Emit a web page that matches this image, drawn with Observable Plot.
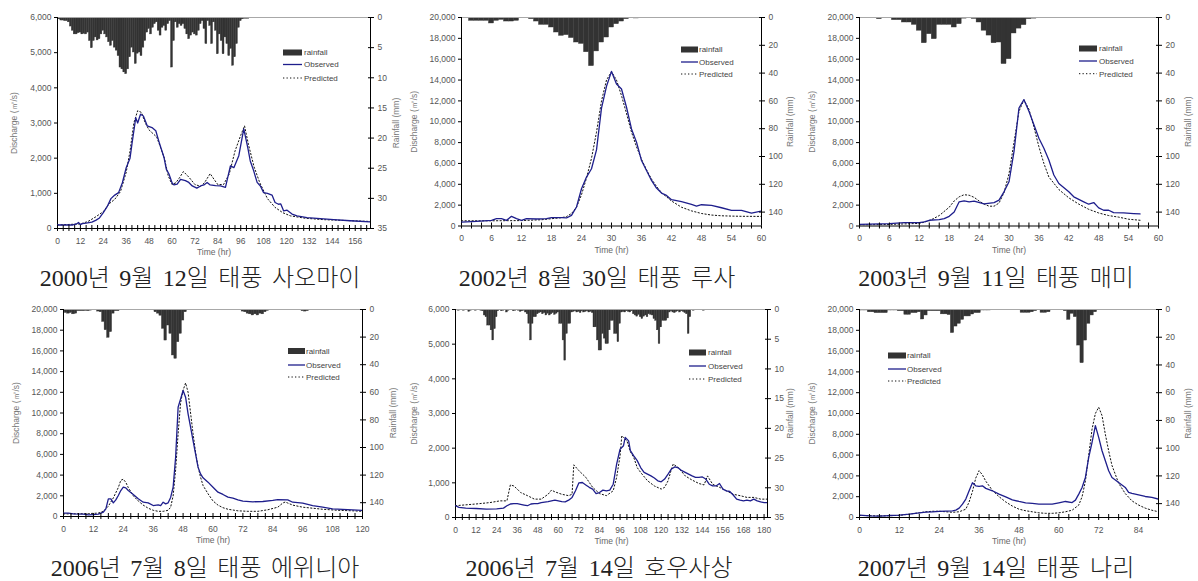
<!DOCTYPE html>
<html><head><meta charset="utf-8">
<script src="https://cdn.jsdelivr.net/npm/d3@7"></script>
<script src="https://cdn.jsdelivr.net/npm/@observablehq/plot@0.6"></script>
<style>
body{margin:0;background:#fff;}
#page{position:relative;width:1198px;height:581px;overflow:hidden;background:#fff;}
#page svg{position:absolute;}
</style></head><body><div id="page"></div>
<script>
// ---------- DATA ----------
const captions = ["2000년 9월 12일 태풍 사오마이","2002년 8월 30일 태풍 루사","2003년 9월 11일 태풍 매미",
                  "2006년 7월 8일 태풍 에위니아","2006년 7월 14일 호우사상","2007년 9월 14일 태풍 나리"];
const legendLabels = ["rainfall","Observed","Predicted"];
const xTitle = "Time (hr)", yTitle = "Discharge (㎥/s)", rTitle = "Rainfall (mm)";

// hourly rainfall (mm), index = hour
const p1Rain = [0.2,0.3,0.5,0.5,0.6,0.6,0.8,1.5,2.2,2.8,2.8,2.6,2.5,2.8,2.7,2.8,2.5,3.9,5.1,3.9,3.3,3.8,3.6,2.8,2.2,2.8,3.3,4.1,4.7,3.9,5,5.5,6.4,8.3,8.6,9.1,9.4,8.6,6.6,5,5.8,7.7,6,5.8,6.4,5,3.9,2.5,1.9,2.8,1.7,1.1,0.8,2.2,3,1.7,1.4,2.2,1.1,0.6,8.3,3.9,0.8,1.7,1.1,1.4,1.1,1.9,2.8,3.6,3,2.5,2.8,3,2.2,1.1,0.6,1.9,4.4,0.6,1.4,4.4,0.8,2.2,6.1,2.8,3.9,6.1,3.3,4.4,6.4,5.2,8,6.6,4.4,1.7,0.6,0.3,0.2,0.2,0.2,0.1,0.1,0.1,0.1,0.1,0,0,0.1,0,0,0.1,0,0,0.1,0,0.1,0,0,0.1,0,0,0.1,0,0.1,0,0,0.1,0,0,0.1,0,0.1,0,0,0.1,0,0,0.1,0,0.1,0,0,0.1,0,0,0.1,0,0.1,0,0,0.1,0,0,0.1,0,0.1];
const p2Rain = [0.5,0.5,2.4,2.4,2.4,2.4,4.3,2.4,1.7,2.9,2.9,2.4,0.5,0.5,1.2,2.9,5.3,5.3,7.2,10.8,13.2,12.7,14.8,18,19,25,35,24.4,18,14.4,7.2,4.8,2.9,1.2,0.3,0.7,0.5,0,0,0,0,0,0.5,0,0,0,0.5,0.5,0,0,0,0,0,0,0,0,0,0,0,0];
const p3Rain = [0.3,0.5,0.5,0.5,1.2,0.5,0.5,1.9,1.9,3.6,3.6,5.3,9.5,18.5,12,15.6,5.3,5.3,5.3,7.2,4.8,0.8,0.5,1,3.6,9.5,13,18.5,18,33.5,30,11.5,8,5.5,1.2,0.8,0.4,0.4,0.4,0.4,0.4];
const p4Rain = [1.5,2.5,3,2.5,3.5,3,1.2,1.2,1.2,1,1.2,0.8,0.3,0.3,1.5,2,9,15,20.5,16.4,3,1.2,1.2,0.5,0.2,0.2,0,0.2,0,0,0.2,0,0,0.2,0,0.3,0.5,2,3,4.5,14,22.5,11.6,17.6,33.3,35.7,23.7,17.6,8,2,0.5,0.2,0,0.2,0,0,0.2,0,0,0.2,0,0,0.2,0,0,0.2,0,0,0.2,0,0.2,0.5,1.5,2,3,3.5,4.3,3.5,4.3,3,3.5,2,1,0.3,0.2,0,0.3,0.2,0,0.3,0,0.2,0,0.3,0,0.5,1.2,1.5,1.2,0.3,0.2,0,0.2,0,0,0.2,0,0,0.2,0,0,0.2,0,0,0.2,0,0,0.2,0,0,0.2];
const p5Rain = [0.1,0.1,0.2,0.1,0.1,0.2,0.1,0.1,0.4,0.2,0.1,0.1,0.2,0.1,0.1,0.2,0.3,
  1,1.3,2.7,2.7,3.5,5.2,3.3,1.3,0.3,
  0.1,0.3,0.2,0.1,0.5,0.2,0.1,0.1,0.3,0.2,0.1,0.2,0.4,0.3,0.2,0.5,0.8,
  2.4,5.2,2.4,1.3,1.3,
  0.8,0.6,0.5,0.8,0.6,1,0.7,1,0.8,0.6,0.9,0.7,0.5,
  2.4,2.4,5.2,8.6,4.1,2.4,2.4,0.5,
  0.4,0.3,0.5,0.4,0.6,0.3,0.5,0.4,0.3,0.5,0.4,0.6,
  3,3,5.2,6.9,6.9,4.1,4.9,5.8,5.8,3.5,1.9,1.9,4.1,4.1,5.5,2.4,
  0.5,0.4,0.5,0.3,0.4,0.5,0.3,
  0.8,1,1.2,0.9,1.3,1.6,1.2,1,1.3,0.8,0.9,1,1.6,1.9,
  3.5,5.8,3,1.9,1.9,1.9,1.5,
  0.5,0.3,0.5,0.6,0.4,0.3,0.5,0.3,0.4,0.6,0.8,
  4.1,1.3,
  0.1,0.2,0.1,0,0.1,0.1,0,0.2,0.1,0,0.1,0,0.1,0.1,0,0.1,0,0.1,0,0.1,0.1,0,0.1,0,0.1,0,0,0.1,0,0.1,0,0,0.1,0,0.1,0,0,0.1,0,0,0.1,0,0.1,0];
const p6Rain = [0.7,0.7,0.7,2,2,2.6,2.6,2.6,2.6,0.7,0.7,0.7,1.2,1.2,3.8,3.8,2.6,2.6,2,7.2,4.3,1.2,1.2,1.2,1.2,3.5,3.5,4,17,12.3,10.3,7.5,5,5,3.6,2.6,2.6,0.7,0.7,0.7,0.5,0.2,0.2,0.2,0.2,0.2,0.2,0.2,0.2,2.4,2.4,2.4,2,1.2,0.5,2.4,2.4,2,0.2,0.2,0.2,0.2,1.2,7.5,3.1,5.5,26,38.7,22.4,10.3,4.3,2];

// discharge series [hour, m3/s]
const p1Observed = [[0,100],[8,100],[10,130],[11,170],[12,110],[13,140],[15,150],[18,180],[20,230],[22,300],[24,450],[26,620],[28,850],[30,950],[32,1020],[34,1300],[36,1730],[38,2000],[39,2400],[41,3150],[42,3000],[43.5,3250],[45,3200],[47,2920],[49.5,2870],[51.5,2780],[53,2500],[55.8,2020],[57,1690],[58.4,1550],[60,1300],[61,1240],[62.7,1260],[64.5,1400],[67,1360],[68.8,1310],[70.6,1210],[73,1150],[75,1210],[76.7,1240],[78.4,1310],[80,1240],[82.8,1220],[85.4,1210],[88,1170],[90.6,1780],[92.4,1730],[95,2070],[97.6,2830],[99.7,2300],[101,1920],[102.8,1640],[104.6,1310],[106.3,1210],[108,1020],[110,1000],[112.4,950],[114,740],[115.8,690],[117,700],[118.5,500],[120.3,520],[122.9,410],[125.5,360],[130.7,310],[137.7,280],[144.7,250],[153.4,220],[164,190]];
const p1Predicted = [[0,100],[12,130],[16,200],[20,330],[24,480],[27,700],[30,830],[33,1050],[36,1600],[38,2200],[40,3000],[42,3350],[44,3300],[46,3000],[48,2800],[52,2600],[56,2000],[58,1500],[60,1250],[62,1300],[64,1450],[66,1620],[69,1450],[72,1250],[75,1200],[77,1300],[80,1560],[82,1400],[84,1250],[87,1250],[90,1550],[93,2200],[96,2650],[98,2920],[100,2400],[103,1750],[106,1300],[110,850],[114,600],[118,450],[122,360],[130,290],[140,250],[150,230],[164,200]];
const p2Observed = [[0,380],[3,450],[6,540],[7,700],[8,700],[9,540],[10,925],[11,700],[12,540],[13,700],[15,670],[17,700],[18,800],[20,800],[21,770],[22,1020],[23,1820],[24,3570],[25,4690],[26,5490],[27,7300],[28,11300],[29,13400],[30,14830],[31,13620],[32,13140],[33,11390],[34,9310],[35,8040],[36,6280],[37,5330],[38,4370],[39,3640],[40,3160],[41,2930],[42,2520],[44,2330],[46,2070],[47,1910],[48,2040],[50,1980],[52,1750],[54,1500],[56,1500],[58,1240],[60,1430]];
const p2Predicted = [[0,500],[6,500],[12,520],[16,600],[18,700],[20,800],[21,900],[22,1200],[23,1800],[24,3000],[25,4600],[26,6500],[27,9000],[28,12000],[29,14000],[30,14800],[31,14000],[32,12500],[33,10800],[34,9000],[35,7600],[36,6400],[37,5400],[38,4500],[39,3800],[40,3200],[42,2400],[44,1800],[46,1450],[48,1200],[50,1050],[52,980],[54,950],[56,930],[60,920]];
const p3Observed = [[0,160],[6,225],[9,320],[12,320],[13,390],[14,550],[16,610],[17,710],[18,930],[19,1350],[20,2320],[21,2410],[22,2320],[23,2380],[25,2120],[27,2250],[28,2480],[29,3280],[30,4240],[31,7140],[32,11320],[33,12120],[34,11000],[35,9710],[36,8420],[37,7460],[38,6330],[39,4890],[40,4080],[42,3280],[43,2800],[45,2320],[46,2090],[47,2250],[48,1740],[49,1510],[50,1510],[51,1290],[53,1250],[55,1190],[56.3,1160]];
const p3Predicted = [[0,100],[6,150],[12,250],[14,500],[16,1000],[18,1800],[19,2400],[20,2800],[21,3000],[22,2950],[23,2750],[24,2400],[25,2100],[26,1900],[27,1900],[28,2200],[29,3200],[30,5000],[31,8000],[32,11000],[33,12100],[34,11200],[35,9500],[36,7600],[37,6000],[38,4700],[40,3500],[42,2700],[44,2100],[46,1600],[48,1250],[50,1000],[52,850],[54,650],[56.3,550]];
const p4Observed = [[0,320],[2,320],[4,260],[8,225],[10,160],[12,190],[14,225],[16,420],[17,740],[18,1710],[19,1710],[20,1320],[21,1600],[22,2030],[23,2510],[24,2830],[25,2770],[26,2510],[28,2130],[30,1710],[32,1380],[34,1320],[36,1060],[38,1130],[39,1060],[40,1380],[41,1220],[42,1320],[43,1840],[44,2830],[45,5730],[46,10560],[47,11370],[48,12170],[49,11530],[50,9920],[51,8630],[52,7340],[53,6050],[54,4770],[55,4120],[56,3740],[58,3320],[60,2830],[62,2350],[64,2130],[66,1870],[68,1770],[70,1610],[72,1480],[76,1420],[80,1450],[84,1550],[86,1640],[90,1610],[92,1380],[96,1290],[100,1060],[104,900],[108,740],[112,680],[116,640],[120,580]];
const p4Predicted = [[0,250],[10,280],[14,330],[16,500],[18,1000],[20,1800],[22,2800],[23,3500],[24,3600],[25,3300],[26,2800],[28,2000],[30,1500],[32,1100],[34,800],[36,600],[38,500],[40,500],[42,600],[43,900],[44,2000],[45,4500],[46,8000],[47,11000],[48,12200],[49,12900],[50,12000],[51,10000],[52,8000],[53,6200],[54,4800],[55,3800],[56,3000],[58,2200],[60,1500],[62,1100],[64,850],[66,700],[70,550],[74,500],[78,500],[82,650],[86,900],[88,1300],[89,1400],[90,1300],[92,1100],[96,900],[100,800],[104,700],[110,600],[116,550],[120,500]];
const p5Observed = [[0,340],[2,290],[6,270],[12,260],[18,240],[24,250],[28,270],[30,340],[32,390],[34,400],[36,400],[40,360],[42,340],[44,390],[46,400],[48,400],[50,430],[54,460],[58,500],[60,480],[62,460],[64,450],[66,500],[68,580],[70,770],[72,1000],[74,1010],[76,940],[78,870],[80,820],[82,690],[84,720],[86,790],[88,770],[90,790],[92,960],[94,1540],[96,1970],[98,2070],[99,2310],[100,2260],[101,2210],[102,1930],[104,1780],[106,1640],[108,1440],[110,1300],[112,1250],[114,1200],[116,1140],[118,1060],[120,1030],[122,1110],[124,1250],[126,1400],[128,1460],[130,1430],[132,1350],[134,1300],[136,1250],[138,1200],[140,1160],[142,1160],[144,1170],[146,1110],[148,960],[150,910],[152,910],[154,980],[156,820],[158,770],[160,750],[162,650],[164,530],[166,500],[168,480],[170,500],[172,480],[174,530],[176,480],[178,450],[180,430],[182,430]];
const p5Predicted = [[0,340],[12,390],[20,430],[26,480],[30,480],[32,940],[34,910],[36,820],[38,720],[42,630],[46,530],[50,530],[54,670],[56,790],[58,740],[62,670],[66,630],[68,670],[69,1520],[72,1350],[76,1160],[80,870],[84,690],[88,630],[92,770],[94,1160],[96,1780],[97,2360],[98,2310],[100,2210],[102,1900],[104,1730],[106,1440],[108,1300],[112,1060],[116,910],[120,820],[122,870],[124,1060],[126,1400],[127,1540],[130,1440],[134,1200],[138,1080],[142,980],[145,940],[147,1200],[150,960],[154,870],[158,770],[162,670],[166,630],[170,580],[174,580],[178,530],[182,530]];
const p6Observed = [[0,225],[3,160],[6,130],[9,190],[12,225],[15,320],[18,450],[20,510],[22,550],[24,580],[26,610],[28,640],[29,710],[30,900],[31,1280],[32,1770],[33,2570],[34,3340],[35,3050],[36,2990],[37,3050],[38,2800],[40,2570],[42,2250],[44,1990],[46,1700],[48,1540],[50,1410],[52,1350],[54,1280],[56,1280],[58,1280],[60,1410],[62,1540],[64,1440],[65,1670],[66,2250],[67,2890],[68,3850],[69,5780],[70,7220],[71,8830],[72,7700],[73,6420],[74,5460],[75,4490],[76,3850],[78,3370],[80,2890],[81,2410],[82,2310],[84,2180],[86,2020],[88,1930],[90,1770]];
const p6Predicted = [[0,200],[6,150],[12,200],[18,450],[20,550],[22,600],[24,600],[26,550],[28,500],[30,550],[32,800],[33,1500],[34,2500],[35,3800],[36,4500],[37,4100],[38,3500],[40,2600],[42,2000],[44,1500],[46,1100],[48,800],[50,650],[52,550],[54,450],[56,400],[58,400],[60,450],[62,550],[64,700],[66,1200],[67,2000],[68,3500],[69,6000],[70,8500],[71,10000],[72,10600],[73,9800],[74,8000],[75,6400],[76,5000],[78,3300],[80,2300],[82,1600],[84,1200],[86,900],[88,700],[90,550]];

// axis ranges
const xMaxes = [164,60,60,120,182,90];
const xLabelSteps = [12,6,6,12,12,12];
const xMinorSteps = [3,2,2,3,4,3];
const yMaxes = [6000,20000,20000,20000,6000,20000];
const ySteps = [1000,2000,2000,2000,1000,2000];
const rMaxes = [35,150,150,150,35,150];
const rSteps = [5,20,20,20,5,20];

// ---------- LAYOUT ----------
const layout = [
  {x0:0,  y0:0,  w:400, mL:57, mR:30, mT:17, mB:34,   dDx:-43, rDx:26, leg:{x:283,w:19,yr:52.5,yo:64.5,yp:78,tx:304},   cap:{x:200,y:286}},
  {x0:400,y0:0,  w:400, mL:61, mR:39, mT:17, mB:36.5, dDx:-47, rDx:29, leg:{x:681,w:17,yr:49.5,yo:62,yp:74,tx:699},     cap:{x:597,y:286}},
  {x0:800,y0:0,  w:398, mL:59, mR:40, mT:17, mB:36.5, dDx:-47, rDx:30, leg:{x:1079,w:18,yr:48.5,yo:61,yp:73.7,tx:1099}, cap:{x:996,y:286}},
  {x0:0,  y0:290,w:400, mL:63, mR:38, mT:19, mB:36,   dDx:-47, rDx:31, leg:{x:288,w:17,yr:351,yo:365,yp:377,tx:306},    cap:{x:205,y:576}},
  {x0:400,y0:290,w:400, mL:55, mR:33, mT:19, mB:35,   dDx:-41, rDx:23, leg:{x:689,w:17,yr:352.5,yo:366,yp:379,tx:708},  cap:{x:599,y:576}},
  {x0:800,y0:290,w:398, mL:59, mR:40, mT:19, mB:35,   dDx:-47, rDx:30, leg:{x:888,w:18,yr:355.5,yo:369,yp:381,tx:907},  cap:{x:996,y:576}}
];
const H = 262;
const rains = [p1Rain,p2Rain,p3Rain,p4Rain,p5Rain,p6Rain];
const obsList = [p1Observed,p2Observed,p3Observed,p4Observed,p5Observed,p6Observed];
const predList = [p1Predicted,p2Predicted,p3Predicted,p4Predicted,p5Predicted,p6Predicted];

const OBS = "#1e1e8c", PRED = "#111", RAIN = "#333";
const FONT = "'Liberation Sans', Arial, Helvetica, sans-serif";
const page = document.getElementById("page");

for (let i = 0; i < 6; i++) {
  const L = layout[i];
  const xMax = xMaxes[i], yMax = yMaxes[i], rMax = rMaxes[i];
  const yOfRain = r => yMax * (1 - r / rMax);
  const rainData = rains[i].map((r, h) => ({h, r})).filter(d => d.r > 0);
  const xLabels = d3.range(0, xMax + 1e-6, xLabelSteps[i]);
  const xMinor = d3.range(0, xMax + 1e-6, xMinorSteps[i]);
  const yTicks = d3.range(0, yMax + 1e-6, ySteps[i]);
  const rTicks = d3.range(0, rMax + 1e-6, rSteps[i]).map(yOfRain);
  const svg = Plot.plot({
    width: L.w, height: H,
    marginLeft: L.mL, marginRight: L.mR, marginTop: L.mT, marginBottom: L.mB,
    x: {domain: [0, xMax]},
    y: {domain: [0, yMax]},
    style: {fontFamily: FONT, fontSize: "8.5px", background: "transparent", overflow: "visible"},
    marks: [
      Plot.rect(rainData, {x1: d => d.h - 0.5, x2: d => d.h + 0.5, y1: () => yMax, y2: d => yOfRain(d.r),
        fill: RAIN, stroke: RAIN, strokeWidth: 0.4, clip: true}),
      Plot.ruleY([yMax], {stroke: "#a8a8a8"}),
      Plot.ruleY([0], {stroke: "#000"}),
      Plot.ruleX([0, xMax], {stroke: "#000"}),
      Plot.line(predList[i], {x: d => d[0], y: d => d[1], stroke: PRED, strokeWidth: 1, strokeDasharray: "1.3,2.2", clip: true}),
      Plot.line(obsList[i], {x: d => d[0], y: d => d[1], stroke: OBS, strokeWidth: 1.3, clip: true}),
      Plot.axisX({ticks: xMinor, tickSize: 3, tickFormat: () => "", label: null, stroke: "#000"}),
      Plot.axisX({ticks: xMinor, tickSize: -3, tickFormat: () => "", label: null, stroke: "#000"}),
      Plot.axisX({ticks: xLabels, tickSize: 0, tickPadding: 9, tickFormat: d3.format("d"), label: null, fill: "#555"}),
      Plot.axisY({ticks: yTicks, tickSize: 3, tickPadding: 3, tickFormat: d3.format(","), label: null, fill: "#555", stroke: "#000"}),
      Plot.axisY({anchor: "right", ticks: rTicks, tickSize: 3, tickPadding: 4,
        tickFormat: v => d3.format("d")(Math.round(rMax * (1 - v / yMax))), label: null, fill: "#555", stroke: "#000"}),
      Plot.axisY({anchor: "right", ticks: rTicks, tickSize: -3, tickFormat: () => "", label: null, stroke: "#000"}),
      Plot.text([xTitle], {frameAnchor: "bottom", dy: 24, lineAnchor: "middle", fill: "#666"}),
      Plot.text([yTitle], {frameAnchor: "left", rotate: -90, dx: L.dDx, textAnchor: "middle", lineAnchor: "middle", fill: "#777"}),
      Plot.text([rTitle], {frameAnchor: "right", rotate: -90, dx: L.rDx, textAnchor: "middle", lineAnchor: "middle", fill: "#777"})
    ]
  });
  svg.style.left = L.x0 + "px";
  svg.style.top = L.y0 + "px";
  page.appendChild(svg);
}

// overlay: legends and captions
const ov = d3.create("svg").attr("width", 1198).attr("height", 581)
  .style("left", "0px").style("top", "0px");
layout.forEach((L, i) => {
  const g = ov.append("g").style("font-family", FONT).style("font-size", "8px").attr("fill", "#444");
  const lg = L.leg;
  g.append("rect").attr("x", lg.x).attr("y", lg.yr - 3).attr("width", lg.w).attr("height", 6).attr("fill", RAIN);
  g.append("line").attr("x1", lg.x).attr("x2", lg.x + lg.w).attr("y1", lg.yo).attr("y2", lg.yo)
    .attr("stroke", OBS).attr("stroke-width", 1.3);
  g.append("line").attr("x1", lg.x).attr("x2", lg.x + lg.w).attr("y1", lg.yp).attr("y2", lg.yp)
    .attr("stroke", PRED).attr("stroke-width", 1).attr("stroke-dasharray", "1.3,2.2");
  [lg.yr, lg.yo, lg.yp].forEach((yy, k) => {
    g.append("text").attr("x", lg.tx).attr("y", yy).attr("dy", "0.35em").text(legendLabels[k]);
  });
  ov.append("text").attr("x", L.cap.x).attr("y", L.cap.y).attr("text-anchor", "middle")
    .style("font-family", "'Liberation Serif', 'Noto Sans CJK KR', serif").style("font-size", "24px")
    .style("font-weight", "300").style("word-spacing", "3.5px")
    .attr("fill", "#222").text(captions[i]);
});
page.appendChild(ov.node());
</script>
</body></html>
